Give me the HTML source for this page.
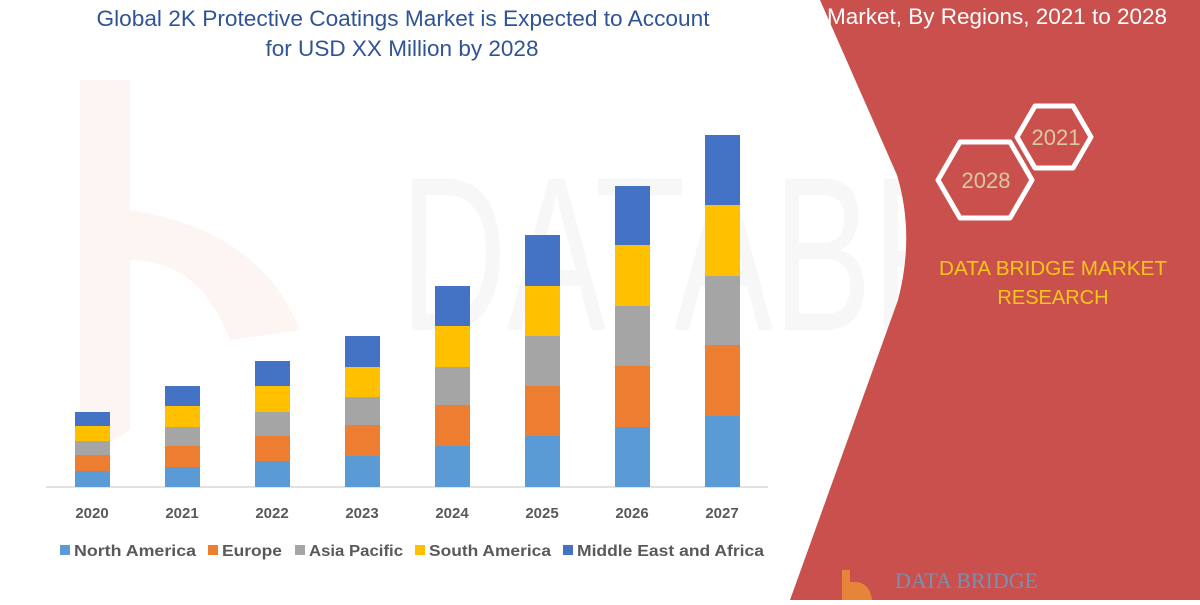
<!DOCTYPE html>
<html><head><style>
body{margin:0;width:1200px;height:600px;overflow:hidden;background:#fff;font-family:"Liberation Sans",sans-serif;}
</style></head><body>
<svg width="1200" height="600" viewBox="0 0 1200 600" xmlns="http://www.w3.org/2000/svg">
<rect width="1200" height="600" fill="#fff"/>
<!-- faint watermark -->
<path d="M80 80 L130 80 L130 210 Q260 230 300 330 L230 340 Q200 260 130 260 L130 430 L80 460 Z" fill="#fdf5f2"/>
<text x="400" y="330" font-size="220" fill="#f7f7f7" font-family="Liberation Sans" textLength="620" lengthAdjust="spacingAndGlyphs">DATABRI</text>
<!-- red panel -->
<path d="M820 0 L1200 0 L1200 600 L790 600 L898 300 Q915 235 897 175 Z" fill="#c9504c"/>
<text x="997" y="24" font-size="22" fill="#fff" text-anchor="middle" textLength="340" lengthAdjust="spacingAndGlyphs">Market, By Regions, 2021 to 2028</text>
<polygon points="938,180 960,142 1010,142 1032,180 1010,218 960,218" fill="none" stroke="#fff" stroke-width="5" stroke-linejoin="round"/>
<polygon points="1017,137 1035,106 1073,106 1091,137 1073,168 1035,168" fill="none" stroke="#fff" stroke-width="5" stroke-linejoin="round"/>
<text x="986" y="188" font-size="22" fill="#d9c8a0" text-anchor="middle">2028</text>
<text x="1056" y="145" font-size="22" fill="#d9c8a0" text-anchor="middle">2021</text>
<text x="1053" y="275" font-size="20" fill="#f7c61a" text-anchor="middle" textLength="228" lengthAdjust="spacingAndGlyphs">DATA BRIDGE MARKET</text>
<text x="1053" y="304" font-size="20" fill="#f7c61a" text-anchor="middle">RESEARCH</text>
<text x="895" y="588" font-size="22" fill="#7b8fb0" font-family="Liberation Serif">DATA BRIDGE</text>
<path d="M842 570 L850 570 L850 582 Q870 580 872 600 L842 600 Z" fill="#e8833a"/>
<!-- title -->
<text x="403" y="26" font-size="22" fill="#2f5496" text-anchor="middle" textLength="613" lengthAdjust="spacingAndGlyphs">Global 2K Protective Coatings Market is Expected to Account</text>
<text x="402" y="56" font-size="22" fill="#2f5496" text-anchor="middle" textLength="273" lengthAdjust="spacingAndGlyphs">for USD XX Million by 2028</text>
<!-- baseline -->
<line x1="46" y1="487" x2="768" y2="487" stroke="#d9d9d9" stroke-width="1.5"/>
<g font-size="15" font-weight="bold" fill="#595959" text-anchor="middle">
<text x="92" y="518">2020</text><text x="182" y="518">2021</text><text x="272" y="518">2022</text><text x="362" y="518">2023</text>
<text x="452" y="518">2024</text><text x="542" y="518">2025</text><text x="632" y="518">2026</text><text x="722" y="518">2027</text>
</g>
<g font-size="16" font-weight="bold" fill="#595959">
<rect x="60" y="545" width="10" height="10" fill="#5b9bd5"/><text x="74" y="556" textLength="122" lengthAdjust="spacingAndGlyphs">North America</text>
<rect x="208" y="545" width="10" height="10" fill="#ed7d31"/><text x="222" y="556" textLength="60" lengthAdjust="spacingAndGlyphs">Europe</text>
<rect x="295" y="545" width="10" height="10" fill="#a5a5a5"/><text x="309" y="556" textLength="94" lengthAdjust="spacingAndGlyphs">Asia Pacific</text>
<rect x="415" y="545" width="10" height="10" fill="#ffc000"/><text x="429" y="556" textLength="122" lengthAdjust="spacingAndGlyphs">South America</text>
<rect x="563" y="545" width="10" height="10" fill="#4472c4"/><text x="577" y="556" textLength="187" lengthAdjust="spacingAndGlyphs">Middle East and Africa</text>
</g>
<g>
<rect x="75" y="412" width="35" height="14" fill="#4472c4"/><rect x="75" y="426" width="35" height="15" fill="#ffc000"/><rect x="75" y="441" width="35" height="14" fill="#a5a5a5"/><rect x="75" y="455" width="35" height="16" fill="#ed7d31"/><rect x="75" y="471" width="35" height="16" fill="#5b9bd5"/>
<rect x="165" y="386" width="35" height="20" fill="#4472c4"/><rect x="165" y="406" width="35" height="21" fill="#ffc000"/><rect x="165" y="427" width="35" height="19" fill="#a5a5a5"/><rect x="165" y="446" width="35" height="21" fill="#ed7d31"/><rect x="165" y="467" width="35" height="20" fill="#5b9bd5"/>
<rect x="255" y="361" width="35" height="25" fill="#4472c4"/><rect x="255" y="386" width="35" height="26" fill="#ffc000"/><rect x="255" y="412" width="35" height="24" fill="#a5a5a5"/><rect x="255" y="436" width="35" height="25" fill="#ed7d31"/><rect x="255" y="461" width="35" height="26" fill="#5b9bd5"/>
<rect x="345" y="336" width="35" height="31" fill="#4472c4"/><rect x="345" y="367" width="35" height="30" fill="#ffc000"/><rect x="345" y="397" width="35" height="28" fill="#a5a5a5"/><rect x="345" y="425" width="35" height="31" fill="#ed7d31"/><rect x="345" y="456" width="35" height="31" fill="#5b9bd5"/>
<rect x="435" y="286" width="35" height="40" fill="#4472c4"/><rect x="435" y="326" width="35" height="41" fill="#ffc000"/><rect x="435" y="367" width="35" height="38" fill="#a5a5a5"/><rect x="435" y="405" width="35" height="41" fill="#ed7d31"/><rect x="435" y="446" width="35" height="41" fill="#5b9bd5"/>
<rect x="525" y="235" width="35" height="51" fill="#4472c4"/><rect x="525" y="286" width="35" height="50" fill="#ffc000"/><rect x="525" y="336" width="35" height="50" fill="#a5a5a5"/><rect x="525" y="386" width="35" height="50" fill="#ed7d31"/><rect x="525" y="436" width="35" height="51" fill="#5b9bd5"/>
<rect x="615" y="186" width="35" height="59" fill="#4472c4"/><rect x="615" y="245" width="35" height="61" fill="#ffc000"/><rect x="615" y="306" width="35" height="60" fill="#a5a5a5"/><rect x="615" y="366" width="35" height="61" fill="#ed7d31"/><rect x="615" y="427" width="35" height="60" fill="#5b9bd5"/>
<rect x="705" y="135" width="35" height="70" fill="#4472c4"/><rect x="705" y="205" width="35" height="71" fill="#ffc000"/><rect x="705" y="276" width="35" height="69" fill="#a5a5a5"/><rect x="705" y="345" width="35" height="71" fill="#ed7d31"/><rect x="705" y="416" width="35" height="71" fill="#5b9bd5"/>
</g>
</svg>
</body></html>
